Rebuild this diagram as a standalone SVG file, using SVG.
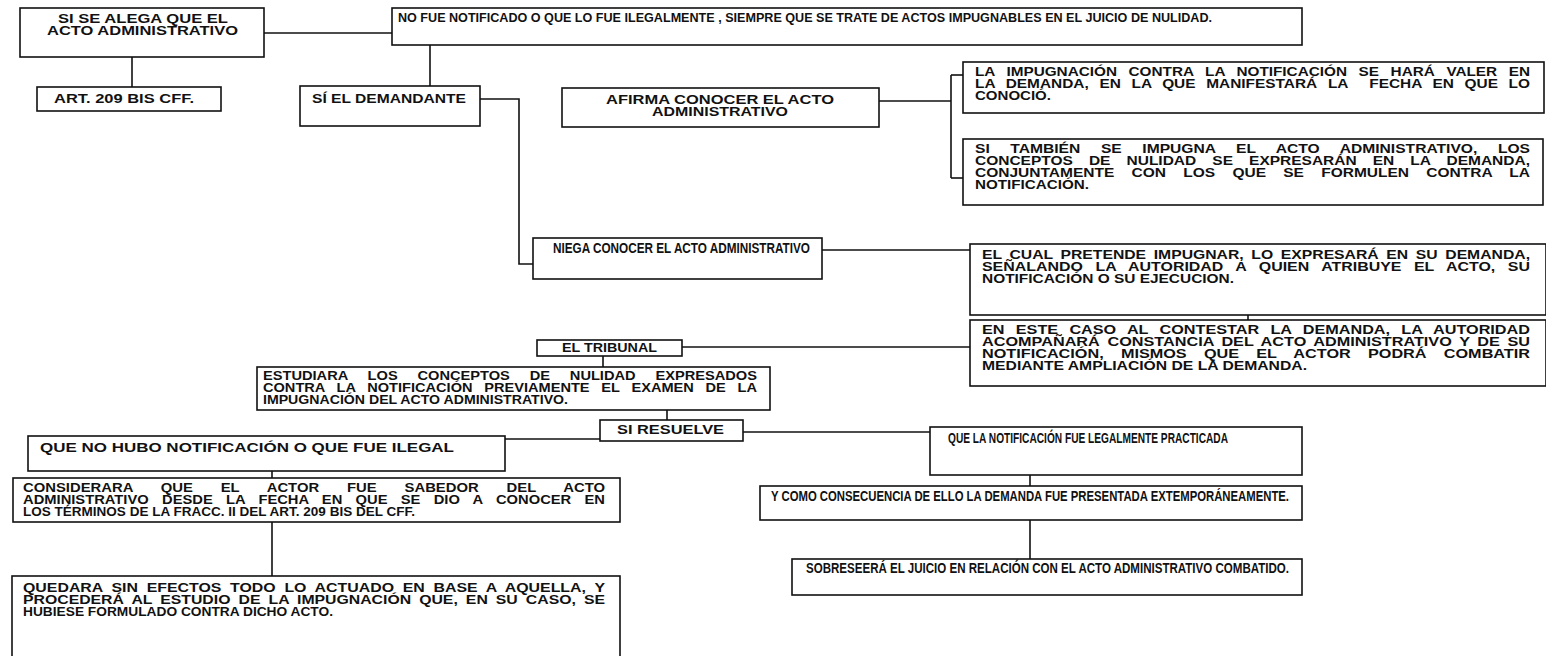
<svg xmlns="http://www.w3.org/2000/svg" width="1546" height="656" viewBox="0 0 1546 656">
  <style>
    .box { fill: #ffffff; stroke: #111111; stroke-width: 1.6; }
    .link { fill: none; stroke: #111111; stroke-width: 1.6; }
    .t { font-family: "Liberation Sans", Arial, sans-serif; font-weight: bold; font-size: 12.5px; fill: #111111; }
    .n { font-size: 14.5px; }
    .w { font-size: 15px; }
  </style>
  <rect width="1546" height="656" fill="#ffffff"/>

  <!-- connectors -->
  <g id="connectors" class="link">
    <path d="M264 33 H392"/>
    <path d="M132 57 V87"/>
    <path d="M430 45 V86"/>
    <path d="M472 99 H519 V264 H533"/>
    <path d="M879 101 H951"/>
    <path d="M951 75 V178"/>
    <path d="M951 75 H963"/>
    <path d="M951 178 H966"/>
    <path d="M822 250 H970"/>
    <path d="M1248 315 V320"/>
    <path d="M682 347 H970"/>
    <path d="M603 356 V367"/>
    <path d="M667 410 V420"/>
    <path d="M505 439 H600"/>
    <path d="M743 432 H930"/>
    <path d="M272 471 V478"/>
    <path d="M1030 475 V486"/>
    <path d="M272 522 V576"/>
    <path d="M1030 520 V559"/>
  </g>

  <g id="n-alega">
    <rect class="box" x="20" y="8" width="244" height="49"/>
    <text class="t" x="58" y="23" textLength="170" lengthAdjust="spacingAndGlyphs">SI SE ALEGA QUE EL</text>
    <text class="t" x="47" y="35" textLength="191" lengthAdjust="spacingAndGlyphs">ACTO ADMINISTRATIVO</text>
  </g>

  <g id="n-notificado">
    <rect class="box" x="392" y="8" width="910" height="37"/>
    <text class="t" x="398" y="22" textLength="814" lengthAdjust="spacingAndGlyphs">NO FUE NOTIFICADO O QUE LO FUE ILEGALMENTE , SIEMPRE QUE SE TRATE DE ACTOS IMPUGNABLES EN EL JUICIO DE NULIDAD.</text>
  </g>

  <g id="n-art">
    <rect class="box" x="37" y="87" width="184" height="24"/>
    <text class="t" x="54" y="103" textLength="140" lengthAdjust="spacingAndGlyphs">ART. 209 BIS CFF.</text>
  </g>

  <g id="n-demandante">
    <rect class="box" x="300" y="86" width="180" height="40"/>
    <text class="t" x="312" y="103" textLength="154" lengthAdjust="spacingAndGlyphs">SÍ EL DEMANDANTE</text>
  </g>

  <g id="n-afirma">
    <rect class="box" x="562" y="88" width="317" height="39"/>
    <text class="t" x="606" y="104" textLength="228" lengthAdjust="spacingAndGlyphs">AFIRMA CONOCER EL ACTO</text>
    <text class="t" x="652" y="116" textLength="136" lengthAdjust="spacingAndGlyphs">ADMINISTRATIVO</text>
  </g>

  <g id="n-impugnacion">
    <rect class="box" x="963" y="62" width="581" height="51"/>
    <text class="t" x="975" y="76" textLength="555" lengthAdjust="spacingAndGlyphs" word-spacing="6">LA IMPUGNACIÓN CONTRA LA NOTIFICACIÓN SE HARÁ VALER EN</text>
    <text class="t" x="975" y="88" textLength="555" lengthAdjust="spacingAndGlyphs" word-spacing="5.2" xml:space="preserve">LA DEMANDA, EN LA QUE MANIFESTARÁ LA  FECHA EN QUE LO</text>
    <text class="t" x="975" y="100" textLength="76" lengthAdjust="spacingAndGlyphs">CONOCIÓ.</text>
  </g>

  <g id="n-tambien">
    <rect class="box" x="963" y="139" width="580" height="66"/>
    <text class="t" x="975" y="153" textLength="555" lengthAdjust="spacingAndGlyphs" word-spacing="13">SI TAMBIÉN SE IMPUGNA EL ACTO ADMINISTRATIVO, LOS</text>
    <text class="t" x="975" y="165" textLength="555" lengthAdjust="spacingAndGlyphs" word-spacing="9.5">CONCEPTOS DE NULIDAD SE EXPRESARÁN EN LA DEMANDA,</text>
    <text class="t" x="975" y="177" textLength="555" lengthAdjust="spacingAndGlyphs" word-spacing="10.4">CONJUNTAMENTE CON LOS QUE SE FORMULEN CONTRA LA</text>
    <text class="t" x="975" y="189" textLength="114" lengthAdjust="spacingAndGlyphs">NOTIFICACIÓN.</text>
  </g>

  <g id="n-niega">
    <rect class="box" x="533" y="238" width="289" height="41"/>
    <text class="t n" x="553" y="253" textLength="257" lengthAdjust="spacingAndGlyphs">NIEGA CONOCER EL ACTO ADMINISTRATIVO</text>
  </g>

  <g id="n-cual">
    <rect class="box" x="970" y="244" width="576" height="71"/>
    <text class="t" x="982" y="259" textLength="548" lengthAdjust="spacingAndGlyphs" word-spacing="2.6">EL CUAL PRETENDE IMPUGNAR, LO EXPRESARÁ EN SU DEMANDA,</text>
    <text class="t" x="982" y="271" textLength="548" lengthAdjust="spacingAndGlyphs" word-spacing="6.4">SEÑALANDO LA AUTORIDAD A QUIEN ATRIBUYE EL ACTO, SU</text>
    <text class="t" x="982" y="283" textLength="252" lengthAdjust="spacingAndGlyphs">NOTIFICACIÓN O SU EJECUCION.</text>
  </g>

  <g id="n-caso">
    <rect class="box" x="970" y="320" width="576" height="66"/>
    <text class="t" x="982" y="334" textLength="548" lengthAdjust="spacingAndGlyphs" word-spacing="5.2">EN ESTE CASO AL CONTESTAR LA DEMANDA, LA AUTORIDAD</text>
    <text class="t" x="982" y="346" textLength="548" lengthAdjust="spacingAndGlyphs" word-spacing="2.4">ACOMPAÑARÁ CONSTANCIA DEL ACTO ADMINISTRATIVO Y DE SU</text>
    <text class="t" x="982" y="358" textLength="548" lengthAdjust="spacingAndGlyphs" word-spacing="9.8">NOTIFICACIÓN, MISMOS QUE EL ACTOR PODRÁ COMBATIR</text>
    <text class="t" x="982" y="370" textLength="325" lengthAdjust="spacingAndGlyphs">MEDIANTE AMPLIACIÓN DE LA DEMANDA.</text>
  </g>

  <g id="n-tribunal">
    <rect class="box" x="537" y="340" width="145" height="16"/>
    <text class="t" x="562" y="352" textLength="95" lengthAdjust="spacingAndGlyphs">EL TRIBUNAL</text>
  </g>

  <g id="n-estudiara">
    <rect class="box" x="257" y="367" width="513" height="43"/>
    <text class="t" x="263" y="380" textLength="494" lengthAdjust="spacingAndGlyphs" word-spacing="13.5">ESTUDIARA LOS CONCEPTOS DE NULIDAD EXPRESADOS</text>
    <text class="t" x="263" y="392" textLength="494" lengthAdjust="spacingAndGlyphs" word-spacing="6.6">CONTRA LA NOTIFICACIÓN PREVIAMENTE EL EXAMEN DE LA</text>
    <text class="t" x="263" y="404" textLength="305" lengthAdjust="spacingAndGlyphs">IMPUGNACIÓN DEL ACTO ADMINISTRATIVO.</text>
  </g>

  <g id="n-resuelve">
    <rect class="box" x="600" y="420" width="143" height="21"/>
    <text class="t" x="617" y="434" textLength="107" lengthAdjust="spacingAndGlyphs">SI RESUELVE</text>
  </g>

  <g id="n-nohubo">
    <rect class="box" x="28" y="436" width="477" height="35"/>
    <text class="t" x="40" y="452" textLength="414" lengthAdjust="spacingAndGlyphs">QUE NO HUBO NOTIFICACIÓN O QUE FUE ILEGAL</text>
  </g>

  <g id="n-legal">
    <rect class="box" x="930" y="427" width="372" height="48"/>
    <text class="t w" x="948" y="443" textLength="280" lengthAdjust="spacingAndGlyphs">QUE LA NOTIFICACIÓN FUE LEGALMENTE PRACTICADA</text>
  </g>

  <g id="n-considerara">
    <rect class="box" x="13" y="478" width="607" height="44"/>
    <text class="t" x="23" y="492" textLength="582" lengthAdjust="spacingAndGlyphs" word-spacing="20">CONSIDERARA QUE EL ACTOR FUE SABEDOR DEL ACTO</text>
    <text class="t" x="23" y="504" textLength="582" lengthAdjust="spacingAndGlyphs" word-spacing="7.8">ADMINISTRATIVO DESDE LA FECHA EN QUE SE DIO A CONOCER EN</text>
    <text class="t" x="23" y="516" textLength="392" lengthAdjust="spacingAndGlyphs">LOS TÉRMINOS DE LA FRACC. II DEL ART. 209 BIS DEL CFF.</text>
  </g>

  <g id="n-extemporaneo">
    <rect class="box" x="760" y="486" width="542" height="34"/>
    <text class="t w" x="771" y="501" textLength="518" lengthAdjust="spacingAndGlyphs">Y COMO CONSECUENCIA DE ELLO LA DEMANDA FUE PRESENTADA EXTEMPORÁNEAMENTE.</text>
  </g>

  <g id="n-sobresee">
    <rect class="box" x="792" y="559" width="510" height="36"/>
    <text class="t w" x="806" y="573" textLength="483" lengthAdjust="spacingAndGlyphs">SOBRESEERÁ EL JUICIO EN RELACIÓN CON EL ACTO ADMINISTRATIVO COMBATIDO.</text>
  </g>

  <g id="n-quedara">
    <rect class="box" x="12" y="576" width="608" height="82"/>
    <text class="t" x="23" y="592" textLength="582" lengthAdjust="spacingAndGlyphs" word-spacing="3.4">QUEDARA SIN EFECTOS TODO LO ACTUADO EN BASE A AQUELLA, Y</text>
    <text class="t" x="23" y="604" textLength="582" lengthAdjust="spacingAndGlyphs" word-spacing="2.9">PROCEDERÁ AL ESTUDIO DE LA IMPUGNACIÓN QUE, EN SU CASO, SE</text>
    <text class="t" x="23" y="616" textLength="310" lengthAdjust="spacingAndGlyphs">HUBIESE FORMULADO CONTRA DICHO ACTO.</text>
  </g>
</svg>
